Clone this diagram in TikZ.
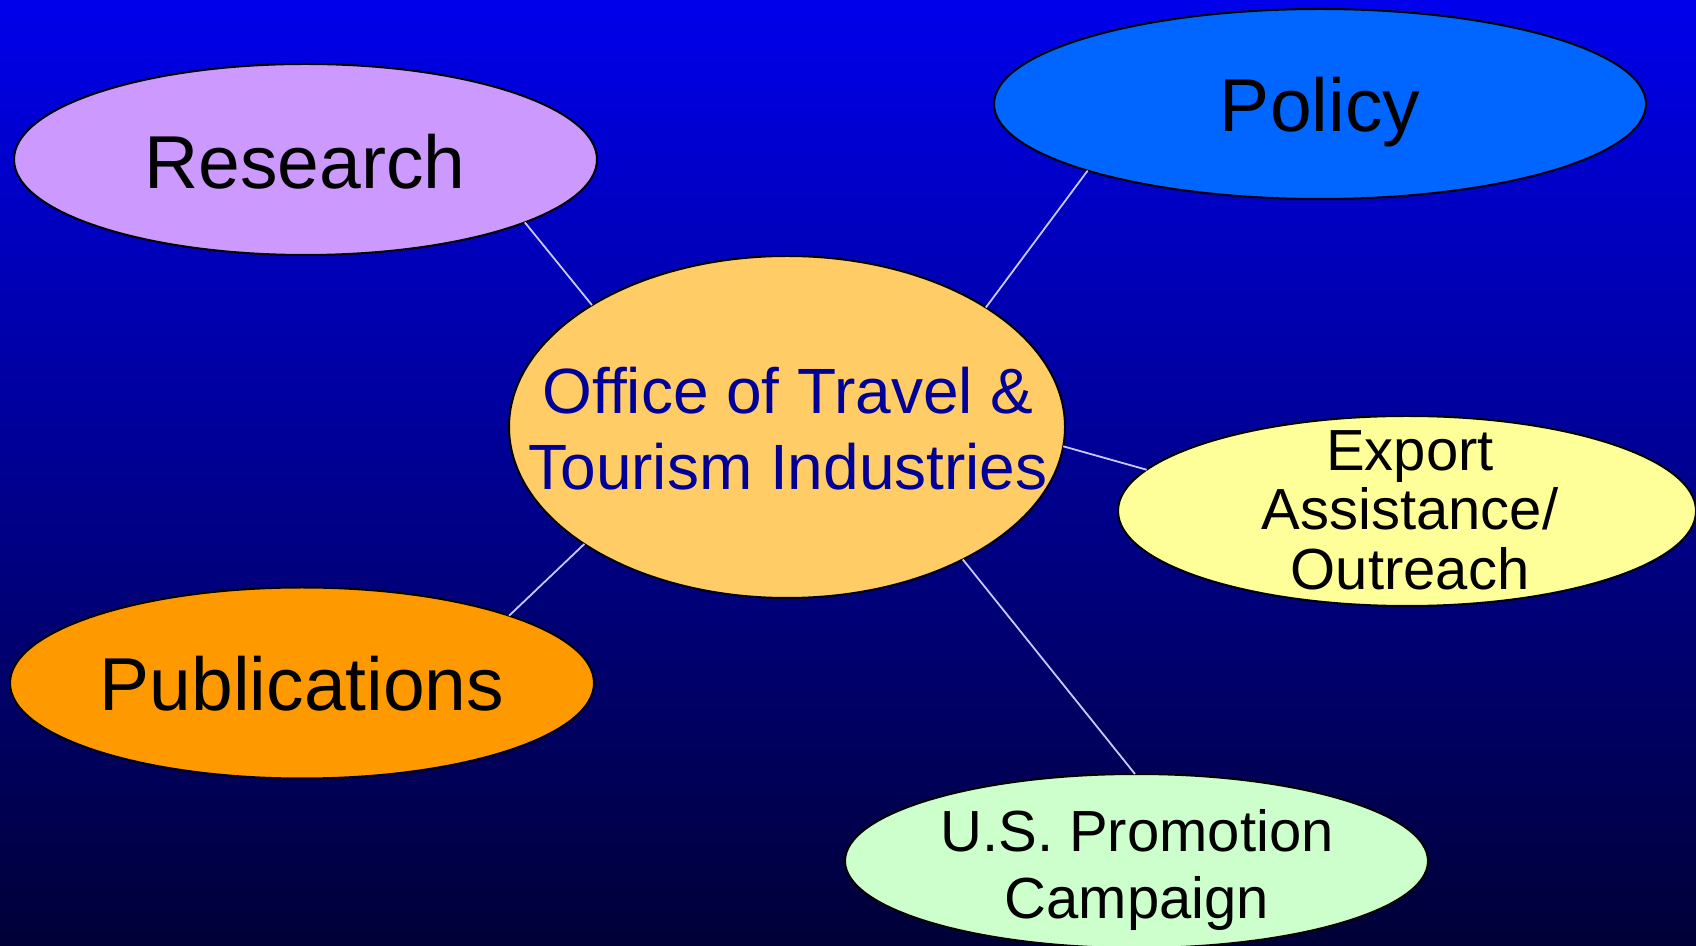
\documentclass[tikz,border=0pt]{standalone}
\usepackage{fontspec}
\setmainfont{Liberation Sans}
\usetikzlibrary{shapes.geometric}

\definecolor{bgtop}{RGB}{0,0,235}
\definecolor{bgbottom}{RGB}{0,0,55}
\definecolor{lavender}{RGB}{204,153,255}
\definecolor{policyblue}{RGB}{0,102,255}
\definecolor{hubfill}{RGB}{255,204,102}
\definecolor{hubtext}{RGB}{0,0,153}
\definecolor{paleyellow}{RGB}{255,255,153}
\definecolor{orangefill}{RGB}{255,153,0}
\definecolor{palegreen}{RGB}{204,255,204}
\definecolor{linkcolor}{RGB}{200,200,255}

\tikzset{
  bubble/.style={ellipse, draw=black, line width=2pt, inner sep=0pt, outer sep=0pt},
  bigword/.style={anchor=base, inner sep=0pt, font=\fontsize{75}{80}\selectfont},
  link/.style={draw=linkcolor, line width=1.8pt}
}

\begin{document}
\begin{tikzpicture}[x=1pt, y=1pt]
  % backdrop with vertical gradient
  \useasboundingbox (0,0) rectangle (1696,945);
  \clip (0,0) rectangle (1696,945);
  \fill[top color=bgtop, bottom color=bgbottom] (0,0) rectangle (1696,945);

  % ellipses
  \node[bubble, fill=lavender,   minimum width=583pt, minimum height=191pt] (research) at (305.5,785.5) {};
  \node[bubble, fill=policyblue, minimum width=652pt, minimum height=190pt] (policy)   at (1320,841) {};
  \node[bubble, fill=hubfill,    minimum width=556pt, minimum height=342pt] (hub)      at (787,518) {};
  \node[bubble, fill=paleyellow, minimum width=578pt, minimum height=190pt] (export)   at (1407,434) {};
  \node[bubble, fill=orangefill, minimum width=584pt, minimum height=191pt] (pubs)     at (302,262) {};
  \node[bubble, fill=palegreen,  minimum width=583pt, minimum height=174pt] (promo)    at (1136.5,84) {};

  % spokes
  \draw[link] (research.-16)   -- (hub.148);
  \draw[link] (policy.-164)    -- (hub.31.6);
  \draw[link] (export.171.6)   -- (hub.-4.3);
  \draw[link] (pubs.18.5)      -- (hub.-150.2);
  \draw[link] (promo.91.3)     -- (hub.-37);

  % labels (multi-line labels are placed by the baseline of their last line)
  \node[bigword] (researchtext) at (305,756) {Research};
  \node[bigword] (policytext)   at (1320,813) {Policy};
  \node[bigword] (pubstext)     at (302,234.4) {Publications};
  \node[anchor=base, inner sep=0pt, align=center, text=hubtext,
        font=\fontsize{64}{76}\selectfont] (hubtext) at (788,455)
        {Office of Travel \&\\Tourism Industries};
  \node[anchor=base, inner sep=0pt, align=center,
        font=\fontsize{58}{59.5}\selectfont] (exporttext) at (1410,355.5)
        {Export\\Assistance/\\Outreach};
  \node[anchor=base, inner sep=0pt, align=center,
        font=\fontsize{58}{67}\selectfont] (promotext) at (1137,27)
        {U.S. Promotion\\Campaign};
\end{tikzpicture}
\end{document}
